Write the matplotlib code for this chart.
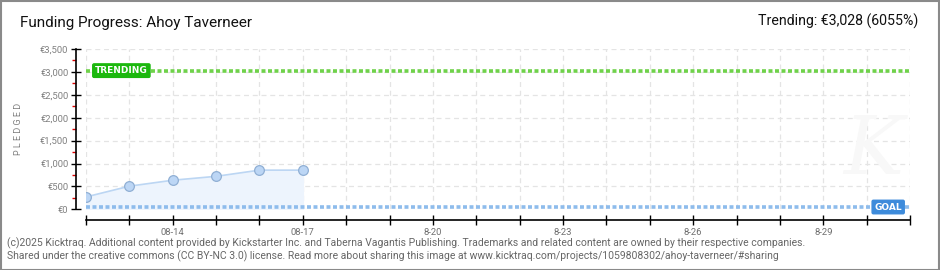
import matplotlib
matplotlib.use("Agg")
import matplotlib.pyplot as plt
from matplotlib.patches import Rectangle

# ---- data ----
days = ["08-12", "08-13", "08-14", "08-15", "08-16", "08-17", "08-18", "08-19",
        "08-20", "08-21", "08-22", "08-23", "08-24", "08-25", "08-26", "08-27",
        "08-28", "08-29", "08-30", "08-31"]
pledged_days = ["08-12", "08-13", "08-14", "08-15", "08-16", "08-17"]
pledged = [270, 505, 635, 720, 855, 855]
goal = 50
trending = 3028
ytick_vals = [0, 500, 1000, 1500, 2000, 2500, 3000, 3500]
ytick_labels = ["€0", "€500", "€1,000", "€1,500", "€2,000", "€2,500", "€3,000", "€3,500"]
xlabel_days = ["08-14", "08-17", "08-20", "08-23", "08-26", "08-29"]
xlabel_text = ["08-14", "08-17", "8-20", "8-23", "8-26", "8-29"]

title = "Funding Progress: Ahoy Taverneer"
trend_text = "Trending: €3,028 (6055%)"
footer1 = ("(c)2025 Kicktraq. Additional content provided by Kickstarter Inc. and Taberna Vagantis "
           "Publishing. Trademarks and related content are owned by their respective companies.")
footer2 = ("Shared under the creative commons (CC BY-NC 3.0) license. Read more about sharing this "
           "image at www.kicktraq.com/projects/1059808302/ahoy-taverneer/#sharing")

plt.rcParams['font.family'] = ['Roboto', 'DejaVu Sans']

W, H = 940, 270
fig = plt.figure(figsize=(W / 100, H / 100), dpi=100)
fig.patches.append(Rectangle((0.5 / W, 0.5 / H), 1 - 1.5 / W, 1 - 1.5 / H, transform=fig.transFigure,
                             fill=False, edgecolor='#8a8a8a', linewidth=1.5))

ax = fig.add_axes([86 / W, 1 - 209.3 / H, 824 / W, 160.3 / H])
idx = {d: i for i, d in enumerate(days)}
xs = [idx[d] for d in pledged_days]

ax.set_xlim(0, len(days) - 1)
ax.set_ylim(0, 3500)

# grid
for i in range(len(days)):
    ax.axvline(i, color='#e4e4e4', lw=0.9, ls=(0, (4, 3)), zorder=0)
for v in ytick_vals:
    ax.axhline(v, color='#e4e4e4', lw=0.9, ls=(0, (4, 3)), zorder=0)

# watermark
ax.text(0.955, 0.36, "K", transform=ax.transAxes, fontsize=58, style='italic',
        color='#f8f8f8', ha='center', va='center', zorder=0.5, family='DejaVu Serif')

# area & line
ax.fill_between(xs, pledged, 0, color='#edf4fd', zorder=1)
ax.plot(xs, pledged, color='#bcd6f3', lw=1.2, zorder=2)
ax.plot(xs, pledged, 'o', ms=7, mfc='#bcd6f5', mec='#90afd4', mew=0.9, zorder=4)

# trending & goal lines
ax.axhline(trending, color='#6fd24a', lw=2.6, ls=(0, (1.1, 0.7)), zorder=3)
ax.axhline(goal, color='#8ebcec', lw=2.6, ls=(0, (1.1, 0.7)), zorder=3)

ax.text((95 - 86) / 824, trending, "TRENDING", transform=ax.get_yaxis_transform(),
        color='white', fontsize=6.5, fontweight='bold', ha='left', va='center', zorder=5,
        family='DejaVu Sans',
        bbox=dict(boxstyle='round,pad=0.25,rounding_size=0.15', fc='#1cb80e', ec='#1cb80e'))
ax.text((902 - 86) / 824, goal, "GOAL", transform=ax.get_yaxis_transform(),
        color='white', fontsize=6.5, fontweight='bold', ha='right', va='center', zorder=5,
        family='DejaVu Sans',
        bbox=dict(boxstyle='round,pad=0.25,rounding_size=0.15', fc='#3d8bdb', ec='#3d8bdb'))

# spines
for s in ['top', 'right']:
    ax.spines[s].set_visible(False)
ax.spines['left'].set_position(('outward', 7.2))
ax.spines['bottom'].set_position(('outward', 7.7))
ax.spines['left'].set_linewidth(1.2)
ax.spines['bottom'].set_linewidth(1.2)

ax.set_yticks(ytick_vals)
ax.set_yticklabels(ytick_labels)
ax.set_yticks([v + 250 for v in ytick_vals[:-1]], minor=True)
ax.tick_params(axis='y', which='major', direction='inout', length=7, width=1,
               labelsize=6.8, labelcolor='#808080', pad=2)
ax.tick_params(axis='y', which='minor', direction='out', length=3, width=1, color='#dd0000')

ax.set_xticks(range(len(days)))
ax.set_xticklabels([xlabel_text[xlabel_days.index(d)] if d in xlabel_days else "" for d in days])
ax.tick_params(axis='x', which='major', direction='inout', length=7, width=1,
               labelsize=6.8, labelcolor='#707070', pad=2)

ax.set_ylabel("P L E D G E D", fontsize=6.5, color='#808080', labelpad=12)

# texts
fig.text(20 / W, 1 - 23 / H, title, fontsize=11, color='#111111', ha='left', va='center')
fig.text(918 / W, 1 - 21 / H, trend_text, fontsize=10.2, color='#111111', ha='right', va='center')
fig.text(7 / W, 1 - 243 / H, footer1, fontsize=7.5, color='#666666', ha='left', va='center')
fig.text(7 / W, 1 - 256 / H, footer2, fontsize=7.5, color='#666666', ha='left', va='center')

fig.savefig("out.png", dpi=100)
